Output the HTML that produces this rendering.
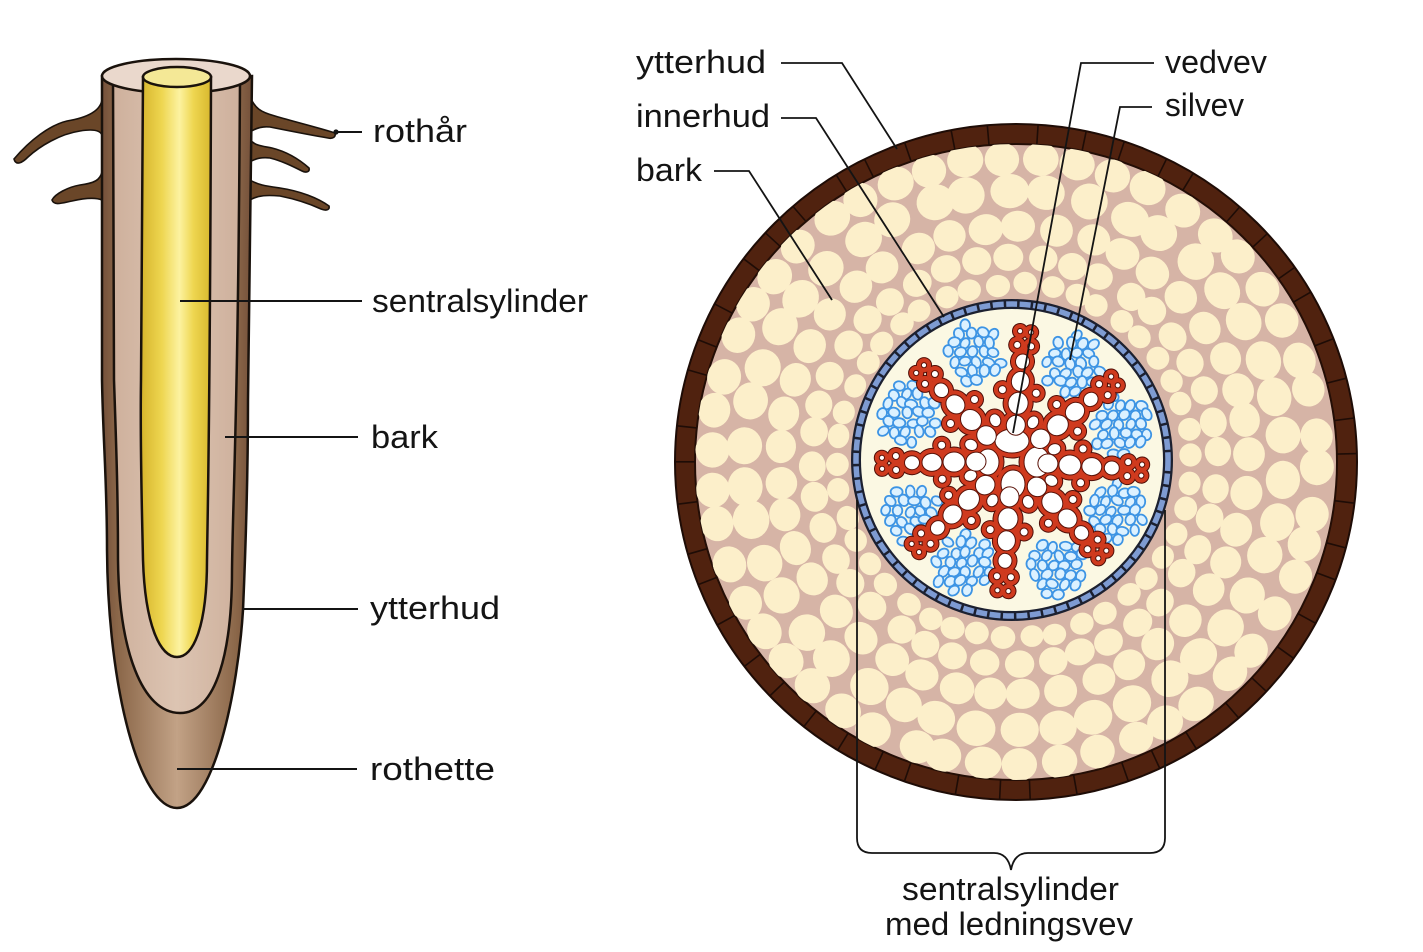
<!DOCTYPE html>
<html><head><meta charset="utf-8">
<style>
html,body{margin:0;padding:0;background:#fff;width:1423px;height:952px;overflow:hidden}
svg{display:block}
text{font-family:"Liberation Sans",sans-serif;font-size:32px;fill:#141414}
</style></head><body>
<svg id="s" width="1423" height="952" viewBox="0 0 1423 952" xmlns="http://www.w3.org/2000/svg">
<defs>
<linearGradient id="bodyG" x1="0" x2="1" y1="0" y2="0">
<stop offset="0" stop-color="#74503a"/>
<stop offset="0.1" stop-color="#8a6648"/>
<stop offset="0.5" stop-color="#c2a286"/>
<stop offset="0.9" stop-color="#8a6648"/>
<stop offset="1" stop-color="#74503a"/>
</linearGradient>
<linearGradient id="steleG" x1="0" x2="1" y1="0" y2="0">
<stop offset="0" stop-color="#d6b42c"/>
<stop offset="0.3" stop-color="#eed650"/>
<stop offset="0.55" stop-color="#fcf2a0"/>
<stop offset="0.75" stop-color="#eed650"/>
<stop offset="1" stop-color="#d8b82e"/>
</linearGradient>
<linearGradient id="cortG" x1="0" x2="1" y1="0" y2="0">
<stop offset="0" stop-color="#ceb09c"/>
<stop offset="0.5" stop-color="#dcc4b2"/>
<stop offset="1" stop-color="#ceb09c"/>
</linearGradient>
<clipPath id="cortClip"><ellipse cx="1016" cy="462" rx="321" ry="318"/></clipPath>
</defs>

<!-- ===== LEFT ROOT ===== -->
<g stroke="#1a120c" stroke-width="1.6" fill="#6a4628">
<path d="M102,100 C100,112 85,118 67,121 C50,125 30,140 14,159 C16,166 22,163 28,157 C40,146 60,134 80,131 C92,129 100,130 102,135 Z"/>
<path d="M102,172 C100,180 95,183 80,185 C68,187 55,194 52,200 C54,206 62,203 72,201 C85,198 95,197 102,200 Z"/>
<path d="M250,97 C255,108 260,112 275,116 C295,122 320,128 335,133 C336,137 333,139 328,138 C310,135 290,131 270,127 C262,126 256,128 250,132 Z"/>
<path d="M250,140 C256,146 262,146 272,148 C288,152 300,160 309,168 C310,172 306,173 302,171 C292,166 282,161 270,158 C262,157 256,158 250,162 Z"/>
<path d="M250,180 C258,185 266,186 280,188 C300,191 318,198 329,206 C330,210 326,211 321,209 C308,203 295,199 280,196 C268,195 258,195 250,200 Z"/>
</g>
<path d="M102,76 L102,380 C103,440 107,480 107,550 C108,690 140,808 177,808 C214,808 238,690 243,610 C246,540 248,460 248,400 L252,76 Z" fill="url(#bodyG)" stroke="#1a120c" stroke-width="2.5"/>
<path d="M113,80 L114,380 C116,440 118,490 118,560 C119,650 142,713 180,713 C217,713 232,650 232,570 C233,490 238,420 240,80 Z" fill="url(#cortG)" stroke="#1a120c" stroke-width="2.5"/>
<ellipse cx="176" cy="76" rx="74" ry="17" fill="#ead8cc" stroke="#1a120c" stroke-width="2.5"/>
<path d="M143,77 L141,380 C140,450 142,510 143,560 C145,625 160,657 177,657 C194,657 207,625 207,560 C208,490 210,420 211,77 Z" fill="url(#steleG)" stroke="#1a120c" stroke-width="2.5"/>
<ellipse cx="177" cy="77" rx="34" ry="10" fill="#f4e896" stroke="#1a120c" stroke-width="2.5"/>

<g stroke="#141414" stroke-width="2">
<line x1="336" y1="132" x2="362" y2="132"/>
<line x1="180" y1="301" x2="362" y2="301"/>
<line x1="225" y1="437" x2="358" y2="437"/>
<line x1="243" y1="609" x2="358" y2="609"/>
<line x1="177" y1="769" x2="357" y2="769"/>
</g>
<circle cx="336" cy="132" r="2.6" fill="#141414"/>

<text x="373" y="142" textLength="94" lengthAdjust="spacingAndGlyphs">rothår</text>
<text x="372" y="312" textLength="216" lengthAdjust="spacingAndGlyphs">sentralsylinder</text>
<text x="371" y="448" textLength="67" lengthAdjust="spacingAndGlyphs">bark</text>
<text x="370" y="619" textLength="130" lengthAdjust="spacingAndGlyphs">ytterhud</text>
<text x="370" y="780" textLength="125" lengthAdjust="spacingAndGlyphs">rothette</text>

<!-- ===== RIGHT CROSS-SECTION ===== -->
<ellipse cx="1016" cy="462" rx="341" ry="338" fill="#50220f" stroke="#1e0c06" stroke-width="2"/>
<ellipse cx="1016" cy="462" rx="321" ry="318" fill="#d6b4a6" stroke="#240e06" stroke-width="2"/>
<g id="seps" stroke="#1e0c06" stroke-width="1.6"></g>
<g id="cells" fill="#fcefca" clip-path="url(#cortClip)"></g>

<circle cx="1012" cy="460" r="160" fill="#fbf8e3"/>
<circle cx="1012" cy="460" r="156" fill="none" stroke="#1c2030" stroke-width="10"/>
<circle cx="1012" cy="460" r="156" fill="none" stroke="#7e9bd2" stroke-width="5.5" stroke-dasharray="11 2.5"/>
<g id="phl" fill="#dcf1ff" stroke="#3d94e4" stroke-width="1.8"></g>
<g id="xa" fill="#4e0e08"></g>
<g id="xb" fill="#cf3a1e"></g>
<g id="xc" fill="#ffffff" stroke="#5a1208" stroke-width="1"></g>

<g stroke="#141414" stroke-width="1.8" fill="none">
<polyline points="781,63 842,63 897,149"/>
<polyline points="781,118 816,118 944,317"/>
<polyline points="714,171 749,171 832,300"/>
<polyline points="1154,63 1081,63 1013,433"/>
<polyline points="1152,107 1120,107 1070,360"/>
<path d="M857,500 L857,838 Q857,853 872,853 L994,853 Q1008,853 1011,870 Q1014,853 1028,853 L1150,853 Q1165,853 1165,838 L1165,510"/>
</g>

<text x="636" y="73" textLength="130" lengthAdjust="spacingAndGlyphs">ytterhud</text>
<text x="636" y="127" textLength="134" lengthAdjust="spacingAndGlyphs">innerhud</text>
<text x="636" y="181" textLength="66" lengthAdjust="spacingAndGlyphs">bark</text>
<text x="1165" y="73" textLength="102" lengthAdjust="spacingAndGlyphs">vedvev</text>
<text x="1165" y="116" textLength="79" lengthAdjust="spacingAndGlyphs">silvev</text>
<text x="902" y="900" textLength="217" lengthAdjust="spacingAndGlyphs">sentralsylinder</text>
<text x="885" y="935" textLength="248" lengthAdjust="spacingAndGlyphs">med ledningsvev</text>
</svg>
<script>
(function(){
var NS="http://www.w3.org/2000/svg";
var seed=987654;
function R(){seed|=0;seed=seed+0x6D2B79F5|0;var t=Math.imul(seed^seed>>>15,1|seed);t=t+Math.imul(t^t>>>7,61|t)^t;return((t^t>>>14)>>>0)/4294967296;}
function el(p,tag,a){var e=document.createElementNS(NS,tag);for(var k in a)e.setAttribute(k,a[k]);p.appendChild(e);return e;}
function f(v){return (+v).toFixed(1);}
// ring separators
var seps=document.getElementById('seps');
for(var i=0;i<50;i++){var a=i*2*Math.PI/50+(R()-0.5)*0.05;var c=Math.cos(a),s=Math.sin(a);
 el(seps,'line',{x1:f(1016+321*c),y1:f(462+318*s),x2:f(1016+341*c),y2:f(462+338*s)});}
// cortex cells
var cells=document.getElementById('cells');
var CX=1014,CY=461;
var rings=[[177,22],[203,27],[234,31],[269,35],[303,33]];
rings.forEach(function(rg){var r=rg[0],d=rg[1],tw=d*1.08;var n=Math.round(2*Math.PI*r/(tw+2.5));var off=R()*6.283;
 for(var i=0;i<n;i++){var a=off+i*2*Math.PI/n+(R()-0.5)*0.04;var rr=r+(R()-0.5)*3;var x=CX+rr*Math.cos(a),y=CY+rr*Math.sin(a);
  var rx=tw/2*(0.96+R()*0.08),ry=d/2*(0.97+R()*0.07);
  el(cells,'ellipse',{cx:f(x),cy:f(y),rx:f(rx),ry:f(ry),transform:'rotate('+f(a*180/Math.PI+90)+' '+f(x)+' '+f(y)+')'});}
});
// phloem
var SX=1012,SY=461;
var phg=document.getElementById('phl');
[-110,-58,-18,27,68,116,153,-156].forEach(function(deg){var a=deg*Math.PI/180;var cx=SX+114*Math.cos(a),cy=SY+114*Math.sin(a);
 for(var gy=-30;gy<=30;gy+=9.5){var row=Math.round(gy/9.5);for(var gx=-36;gx<=36;gx+=11.5){
  var x=gx+(row%2?5.75:0)+(R()-0.5)*3,y=gy+(R()-0.5)*3;if(x*x+y*y>30*30)continue;
  var px=cx+x,py=cy+y;var dd=Math.hypot(px-SX,py-SY);if(dd>145)continue;
  el(phg,'ellipse',{cx:f(px),cy:f(py),rx:f(5.4+R()*0.8),ry:f(4.3+R()*0.7),transform:'rotate('+f(R()*180)+' '+f(px)+' '+f(py)+')'});}}
});
// xylem
var V=[];
V.push([SX,SY-20,13,18,90]);
V.push([SX+25,SY+1,14,16,0]);
V.push([SX+1,SY+23,13,15,0]);
V.push([SX-24,SY+1,12,14,0]);
var arms=[-84,-38,4,46,94,138,179,-135];
arms.forEach(function(deg){var a=deg*Math.PI/180,c=Math.cos(a),s=Math.sin(a),px=-s,py=c;
 function add(r,off,rx,ry){V.push([SX+r*c+off*px,SY+r*s+off*py,rx,ry,deg]);}
 add(36,0,11,10.5);
 add(58,0,12,11);
 add(80,0,11,10);
 add(100,0,8.5,8);
 add(116,-7,4.5,4.5);add(116,7,4.5,4.5);
 add(130,-5.5,3.6,3.6);add(130,5.5,3.6,3.6);
 add(70,-17,5,5);add(70,17,5,5);
 var b=(deg+22.5)*Math.PI/180;V.push([SX+44*Math.cos(b),SY+44*Math.sin(b),7.5,6.5,deg+22.5]);
});
var xa=document.getElementById('xa'),xb=document.getElementById('xb'),xc=document.getElementById('xc');
V.forEach(function(v){var tr='rotate('+f(v[4])+' '+f(v[0])+' '+f(v[1])+')';
 el(xa,'ellipse',{cx:f(v[0]),cy:f(v[1]),rx:f(v[2]+4.5),ry:f(v[3]+4.5),transform:tr});
 el(xb,'ellipse',{cx:f(v[0]),cy:f(v[1]),rx:f(v[2]+3.5),ry:f(v[3]+3.5),transform:tr});
 el(xc,'ellipse',{cx:f(v[0]),cy:f(v[1]),rx:f(Math.max(v[2]-1,1.5)),ry:f(Math.max(v[3]-1,1.5)),transform:tr});
});
})();
</script>
</body></html>
